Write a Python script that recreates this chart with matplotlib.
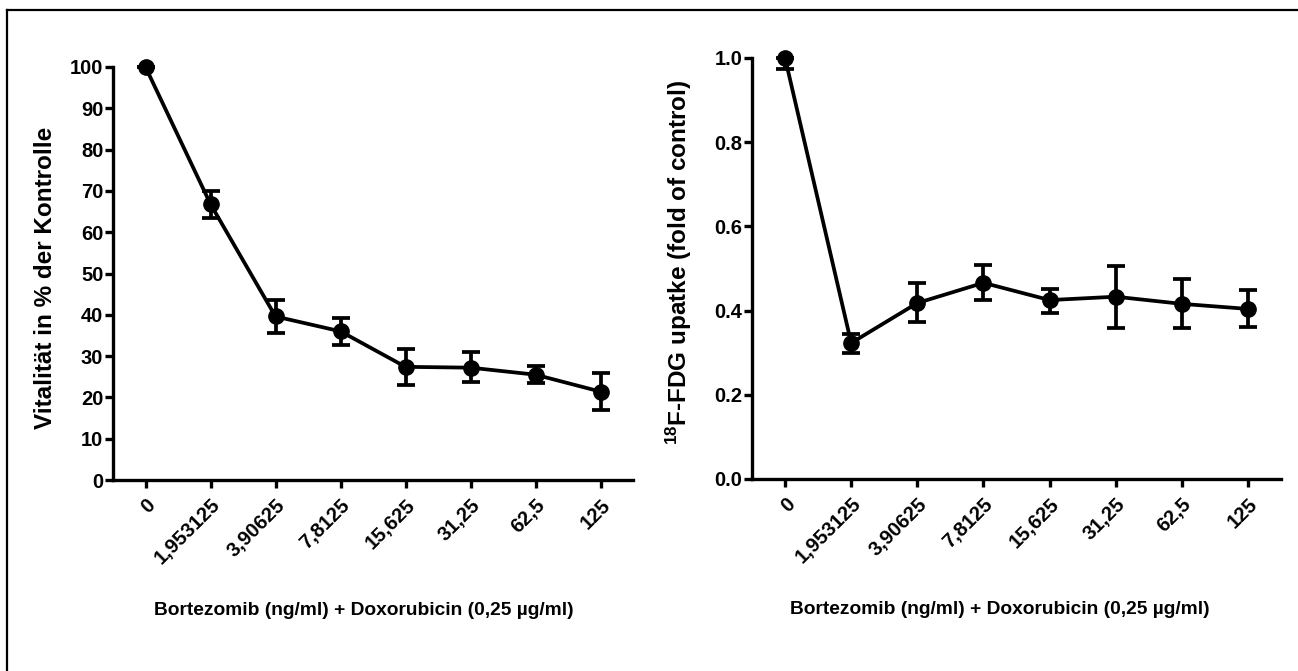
import matplotlib
matplotlib.use("Agg")
import matplotlib.pyplot as plt
from matplotlib.lines import Line2D
import numpy as np

plt.rcParams['font.family'] = ['Liberation Sans', 'DejaVu Sans']
plt.rcParams['font.weight'] = 'bold'
plt.rcParams['mathtext.fontset'] = 'custom'
plt.rcParams['mathtext.bf'] = 'Liberation Sans:bold'
plt.rcParams['mathtext.rm'] = 'Liberation Sans:bold'
plt.rcParams['mathtext.default'] = 'bf'

doses = ["0", "1,953125", "3,90625", "7,8125", "15,625", "31,25", "62,5", "125"]

# left panel: viability in % of control
vital = [100, 66.8, 39.6, 36.0, 27.4, 27.2, 25.5, 21.4]
vital_lo = [0, 3.4, 4.0, 3.3, 4.4, 3.5, 2.1, 4.4]
vital_hi = [0, 3.2, 4.1, 3.3, 4.4, 3.7, 2.2, 4.5]

# right panel: 18F-FDG uptake, fold of control
fdg = [1.0, 0.323, 0.418, 0.466, 0.425, 0.433, 0.416, 0.404]
fdg_lo = [0.025, 0.023, 0.046, 0.040, 0.031, 0.075, 0.058, 0.042]
fdg_hi = [0.0, 0.021, 0.047, 0.043, 0.027, 0.073, 0.058, 0.044]

xlabel = "Bortezomib (ng/ml) + Doxorubicin (0,25 µg/ml)"

W, H = 1298, 671
fig = plt.figure(figsize=(W / 100, H / 100), dpi=100)
fig.patch.set_facecolor("white")

# outer frame (only top and left edges are visible in the original)
fig.add_artist(Line2D([7 / W, 7 / W], [0, 1 - 10 / H], color="black", lw=1.6))
fig.add_artist(Line2D([7 / W, 1], [1 - 10 / H, 1 - 10 / H], color="black", lw=1.6))


def px_axes(x0, x1, y_top, y_bot):
    return fig.add_axes([x0 / W, (H - y_bot) / H, (x1 - x0) / W, (y_bot - y_top) / H])


def style(ax, ylim, yticks, fmt):
    x = np.arange(len(doses))
    ax.set_xlim(-0.5, len(doses) - 0.5)
    ax.set_ylim(*ylim)
    ax.set_xticks(x)
    ax.set_xticklabels(doses, rotation=45, ha="right", rotation_mode="anchor",
                       fontsize=14.5, fontweight="bold")
    ax.set_yticks(yticks)
    ax.set_yticklabels([fmt(v) for v in yticks], fontsize=14.5, fontweight="bold")
    for s in ("top", "right"):
        ax.spines[s].set_visible(False)
    for s in ("left", "bottom"):
        ax.spines[s].set_linewidth(2.4)
    ax.tick_params(axis="both", direction="out", length=6, width=2.4, pad=1)
    ax.tick_params(axis="x", pad=5)


def draw(ax, y, lo, hi):
    x = np.arange(len(doses))
    ax.errorbar(x, y, yerr=[lo, hi], color="black", lw=2.7, marker="o",
                markersize=11, capsize=6.5, capthick=2.7, elinewidth=2.7,
                clip_on=False, zorder=3)


ax1 = px_axes(113, 633, 67, 480)
style(ax1, (0, 100), np.arange(0, 101, 10), lambda v: f"{v:d}")
draw(ax1, vital, vital_lo, vital_hi)
ax1.set_ylabel("Vitalität in % der Kontrolle", fontsize=17.5, fontweight="bold")
ax1.yaxis.set_label_coords(-0.108, 0.489)
ax1.text(0.482, -0.315, xlabel, transform=ax1.transAxes, ha="center",
         va="center", fontsize=13.8, fontweight="bold")

ax2 = px_axes(752, 1281, 58, 479)
style(ax2, (0, 1.0), np.arange(0, 1.01, 0.2), lambda v: f"{v:.1f}")
draw(ax2, fdg, fdg_lo, fdg_hi)
ax2.set_ylabel(r"$^{18}$F-FDG upatke (fold of control)", fontsize=17.5,
               fontweight="bold")
ax2.yaxis.set_label_coords(-0.11, 0.515)
ax2.text(0.469, -0.311, xlabel, transform=ax2.transAxes, ha="center",
         va="center", fontsize=13.8, fontweight="bold")

fig.savefig("out.png", dpi=100, facecolor="white")
